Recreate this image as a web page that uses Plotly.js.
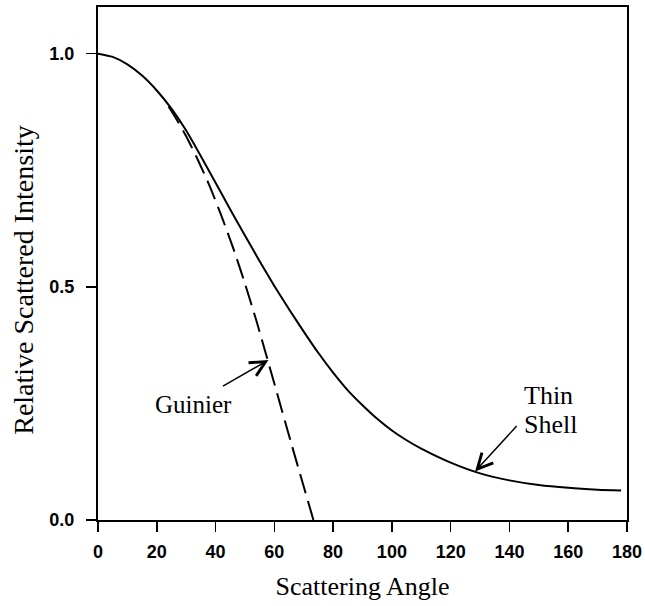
<!DOCTYPE html>
<html>
<head>
<meta charset="utf-8">
<script src="https://cdn.plot.ly/plotly-3.0.1.min.js"></script>
<style>html,body{margin:0;padding:0;background:#fff;}#chart{width:645px;height:606px;}</style>
</head>
<body>
<div id="chart"></div>
<script>
// Thin shell curve
var shellX = [0, 5, 10, 15, 20, 25, 30, 35, 40, 45, 50, 55, 60, 65, 70, 75, 80, 85, 90, 95, 100, 105, 110, 120, 130, 140, 150, 160, 170, 178];
var shellY = [1.0, 0.993, 0.977, 0.953, 0.921, 0.882, 0.835, 0.780, 0.723, 0.666, 0.610, 0.555, 0.502, 0.452, 0.404, 0.358, 0.316, 0.278, 0.246, 0.217, 0.192, 0.171, 0.153, 0.123, 0.100, 0.085, 0.075, 0.069, 0.065, 0.063];
// Guinier approximation (dashed)
var guinierX = [24, 26, 30, 34, 38, 42, 46, 50, 54, 58, 65.5, 73.3];
var guinierY = [0.887, 0.867, 0.823, 0.772, 0.716, 0.652, 0.583, 0.507, 0.425, 0.337, 0.170, 0.0];
var xTicks = [0, 20, 40, 60, 80, 100, 120, 140, 160, 180];
var yTicks = [0.0, 0.5, 1.0];

var traces = [
  {x: shellX, y: shellY, mode: 'lines', line: {color: '#000', width: 2, shape: 'spline', smoothing: 0.6}, hoverinfo: 'skip'},
  {x: guinierX, y: guinierY, mode: 'lines', line: {color: '#000', width: 2, dash: '20px,8px', shape: 'spline', smoothing: 0.6}, hoverinfo: 'skip'}
];

var serif = 'Liberation Serif, Times New Roman, serif';
var layout = {
  width: 645, height: 606,
  margin: {l: 98, r: 18, t: 7, b: 86},
  paper_bgcolor: '#fff', plot_bgcolor: '#fff',
  showlegend: false,
  font: {family: 'Liberation Sans, Arial, sans-serif', color: '#000', size: 18, weight: 'bold'},
  xaxis: {
    range: [0, 180], tickvals: xTicks, ticktext: xTicks.map(String),
    ticks: 'outside', ticklen: 10, tickwidth: 1.5, tickcolor: '#000',
    showline: true, linewidth: 2, linecolor: '#000', mirror: true,
    showgrid: false, zeroline: false, ticklabelstandoff: 4,
    tickfont: {family: 'Liberation Sans, Arial, sans-serif', size: 18, weight: 'bold', color: '#000'},
    title: {text: 'Scattering Angle', font: {family: serif, size: 26, color: '#000', weight: 'normal'}, standoff: 16}
  },
  yaxis: {
    range: [0, 1.1], tickvals: yTicks, ticktext: ['0.0', '0.5', '1.0'],
    ticks: 'outside', ticklen: 10, tickwidth: 1.5, tickcolor: '#000',
    showline: true, linewidth: 2, linecolor: '#000', mirror: true,
    showgrid: false, zeroline: false, ticklabelstandoff: 8,
    tickfont: {family: 'Liberation Sans, Arial, sans-serif', size: 18, weight: 'bold', color: '#000'}
  },
  annotations: [
    {xref: 'paper', yref: 'y', x: -0.14, y: 0.515, text: 'Relative Scattered Intensity', textangle: -90,
     showarrow: false, xanchor: 'center', yanchor: 'middle', font: {family: serif, size: 28, color: '#000', weight: 'normal'}},
    {x: 32.5, y: 0.247, text: 'Guinier', showarrow: false, xanchor: 'center', yanchor: 'middle',
     font: {family: serif, size: 25, color: '#000', weight: 'normal'}},
    {x: 58.0, y: 0.343, text: '', showarrow: true, ax: -47, ay: 27, arrowhead: 5, arrowsize: 2,
     arrowwidth: 1.5, arrowcolor: '#000', standoff: 0},
    {x: 144.2, y: 0.268, text: 'Thin', showarrow: false, xanchor: 'left', yanchor: 'middle',
     font: {family: serif, size: 26, color: '#000', weight: 'normal'}},
    {x: 144.2, y: 0.204, text: 'Shell', showarrow: false, xanchor: 'left', yanchor: 'middle',
     font: {family: serif, size: 26, color: '#000', weight: 'normal'}},
    {x: 128.3, y: 0.104, text: '', showarrow: true, ax: 43, ay: -47, arrowhead: 5, arrowsize: 2,
     arrowwidth: 1.5, arrowcolor: '#000', standoff: 0}
  ]
};
Plotly.newPlot('chart', traces, layout, {staticPlot: true, displayModeBar: false});
</script>
</body>
</html>
